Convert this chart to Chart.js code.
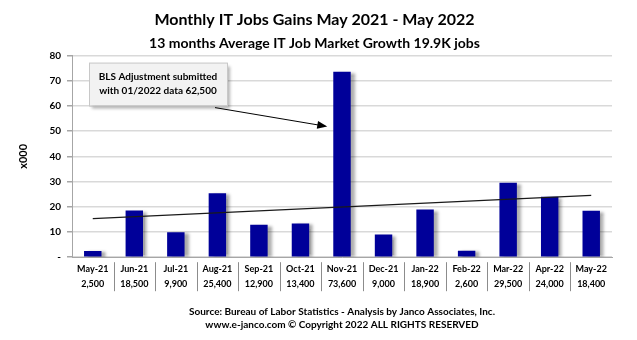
<!DOCTYPE html>
<html>
<head>
<meta charset="utf-8">
<script src="https://cdn.jsdelivr.net/npm/chart.js@4"></script>
<style>
html,body{margin:0;padding:0;background:#fff;}
#wrap{width:637px;height:340px;position:relative;}
</style>
</head>
<body>
<div id="wrap"><canvas id="c" width="637" height="340"></canvas></div>
<script>
const months = ['May-21','Jun-21','Jul-21','Aug-21','Sep-21','Oct-21','Nov-21','Dec-21','Jan-22','Feb-22','Mar-22','Apr-22','May-22'];
const gainsK = [2.5, 18.5, 9.9, 25.4, 12.9, 13.4, 73.6, 9.0, 18.9, 2.6, 29.5, 24.0, 18.4];
const trendEnds = [15.3, 24.5];
const yTicks = [0, 10, 20, 30, 40, 50, 60, 70, 80];
const titleText = 'Monthly IT Jobs Gains May 2021 - May 2022';
const subtitleText = '13 months Average IT Job Market Growth 19.9K jobs';
const sourceLines = ['Source: Bureau of Labor Statistics - Analysis by Janco Associates, Inc.', 'www.e-janco.com \u00A9 Copyright 2022 ALL RIGHTS RESERVED'];
const noteLines = ['BLS Adjustment submitted', 'with 01/2022 data 62,500'];
const noteTargetValue = 52;

const FONT = 'Lato, "Open Sans", sans-serif';
const labels = months.map((m, i) => [m, Math.round(gainsK[i] * 1000).toLocaleString('en-US')]);
const trendData = months.map((m, i) => i === 0 ? trendEnds[0] : (i === months.length - 1 ? trendEnds[1] : null));

const shadowPlugin = {
  id: 'barShadow',
  beforeDatasetDraw(chart, args) {
    if (args.index !== 0) return;
    const ctx = chart.ctx;
    ctx.save();
    ctx.shadowColor = 'rgba(0,0,0,0.35)';
    ctx.shadowOffsetX = 4;
    ctx.shadowOffsetY = 1;
    ctx.shadowBlur = 3;
  },
  afterDatasetDraw(chart, args) {
    if (args.index !== 0) return;
    chart.ctx.restore();
  }
};

const sepPlugin = {
  id: 'separators',
  afterDraw(chart) {
    const x = chart.scales.x, ctx = chart.ctx, b = chart.chartArea.bottom;
    ctx.save();
    ctx.strokeStyle = '#8c8c8c';
    ctx.lineWidth = 1;
    for (let i = 1; i < months.length; i++) {
      const px = Math.round((x.getPixelForValue(i - 1) + x.getPixelForValue(i)) / 2) + 0.5;
      ctx.beginPath();
      ctx.moveTo(px, b + 5);
      ctx.lineTo(px, b + 34);
      ctx.stroke();
    }
    ctx.restore();
  }
};

const notePlugin = {
  id: 'note',
  afterDraw(chart) {
    const ctx = chart.ctx, ca = chart.chartArea;
    const y = chart.scales.y;
    const bx = ca.left + 17, by = ca.top + 7, bw = 138, bh = 43;
    ctx.save();
    ctx.shadowColor = 'rgba(0,0,0,0.3)';
    ctx.shadowOffsetX = 3; ctx.shadowOffsetY = 3; ctx.shadowBlur = 3;
    ctx.fillStyle = '#f2f2f2';
    ctx.fillRect(bx, by, bw, bh);
    ctx.restore();
    ctx.save();
    ctx.strokeStyle = '#c8c8c8';
    ctx.lineWidth = 1;
    ctx.strokeRect(bx + 0.5, by + 0.5, bw, bh);
    ctx.fillStyle = '#000';
    ctx.font = 'bold 10px ' + FONT;
    ctx.textAlign = 'center';
    ctx.textBaseline = 'middle';
    ctx.fillText(noteLines[0], bx + bw / 2, by + 14);
    ctx.fillText(noteLines[1], bx + bw / 2, by + 28);
    const meta = chart.getDatasetMeta(0).data[6];
    const tx = meta.x - meta.width / 2 - 8;
    const ty = y.getPixelForValue(noteTargetValue);
    const sx = bx + bw - 12, sy = by + bh + 2;
    ctx.strokeStyle = '#000';
    ctx.lineWidth = 1;
    ctx.beginPath();
    ctx.moveTo(sx, sy);
    ctx.lineTo(tx, ty);
    ctx.stroke();
    const ang = Math.atan2(ty - sy, tx - sx);
    ctx.fillStyle = '#000';
    ctx.beginPath();
    ctx.moveTo(tx + 2 * Math.cos(ang), ty + 2 * Math.sin(ang));
    ctx.lineTo(tx - 8 * Math.cos(ang) + 4 * Math.sin(ang), ty - 8 * Math.sin(ang) - 4 * Math.cos(ang));
    ctx.lineTo(tx - 8 * Math.cos(ang) - 4 * Math.sin(ang), ty - 8 * Math.sin(ang) + 4 * Math.cos(ang));
    ctx.closePath();
    ctx.fill();
    ctx.restore();
  }
};

new Chart(document.getElementById('c'), {
  data: {
    labels: labels,
    datasets: [
      {
        type: 'bar',
        data: gainsK,
        backgroundColor: '#000099',
        borderWidth: 0,
        categoryPercentage: 1.0,
        barPercentage: 0.42,
        order: 2
      },
      {
        type: 'line',
        data: trendData,
        spanGaps: true,
        borderColor: '#1a1a1a',
        borderWidth: 1.2,
        pointRadius: 0,
        fill: false,
        order: 1
      }
    ]
  },
  options: {
    responsive: false,
    animation: false,
    events: [],
    layout: { padding: { left: 17, right: 25, top: 6, bottom: 9 } },
    plugins: {
      legend: { display: false },
      tooltip: { enabled: false },
      title: {
        display: true,
        text: titleText,
        color: '#000',
        font: { family: FONT, size: 16, weight: 'bold', lineHeight: 1.2 },
        padding: { top: 4, bottom: 6 }
      },
      subtitle: {
        display: true,
        text: subtitleText,
        color: '#000',
        font: { family: FONT, size: 14, weight: 'bold', lineHeight: 1.2 },
        padding: { top: 0, bottom: 3.6 }
      }
    },
    scales: {
      x: {
        grid: { display: false, drawTicks: false },
        border: { display: true, color: '#a6a6a6', width: 1 },
        ticks: {
          color: '#000',
          font: { family: FONT, size: 9, weight: 'bold', lineHeight: 1.6 },
          maxRotation: 0,
          autoSkip: false,
          padding: 5
        },
        title: {
          display: true,
          text: sourceLines,
          color: '#000',
          font: { family: FONT, size: 10, weight: 'bold', lineHeight: 1.3 },
          padding: { top: 9, bottom: 0 }
        }
      },
      y: {
        min: 0,
        max: 80,
        afterFit(s) { s.width = 55; },
        afterBuildTicks(s) { s.ticks = yTicks.map(v => ({ value: v })); },
        grid: { color: '#d9d9d9', lineWidth: 1.5, tickLength: 5, tickColor: '#a6a6a6' },
        border: { display: true, color: '#a6a6a6', width: 1 },
        ticks: {
          color: '#000',
          font: { family: FONT, size: 10, weight: 'bold' },
          padding: 6,
          callback: (v) => v === 0 ? '-' : v
        },
        title: {
          display: true,
          text: 'x000',
          color: '#000',
          font: { family: FONT, size: 11, weight: 'bold' },
          padding: { top: 0, bottom: 14 }
        }
      }
    }
  },
  plugins: [shadowPlugin, sepPlugin, notePlugin]
});
</script>
</body>
</html>
